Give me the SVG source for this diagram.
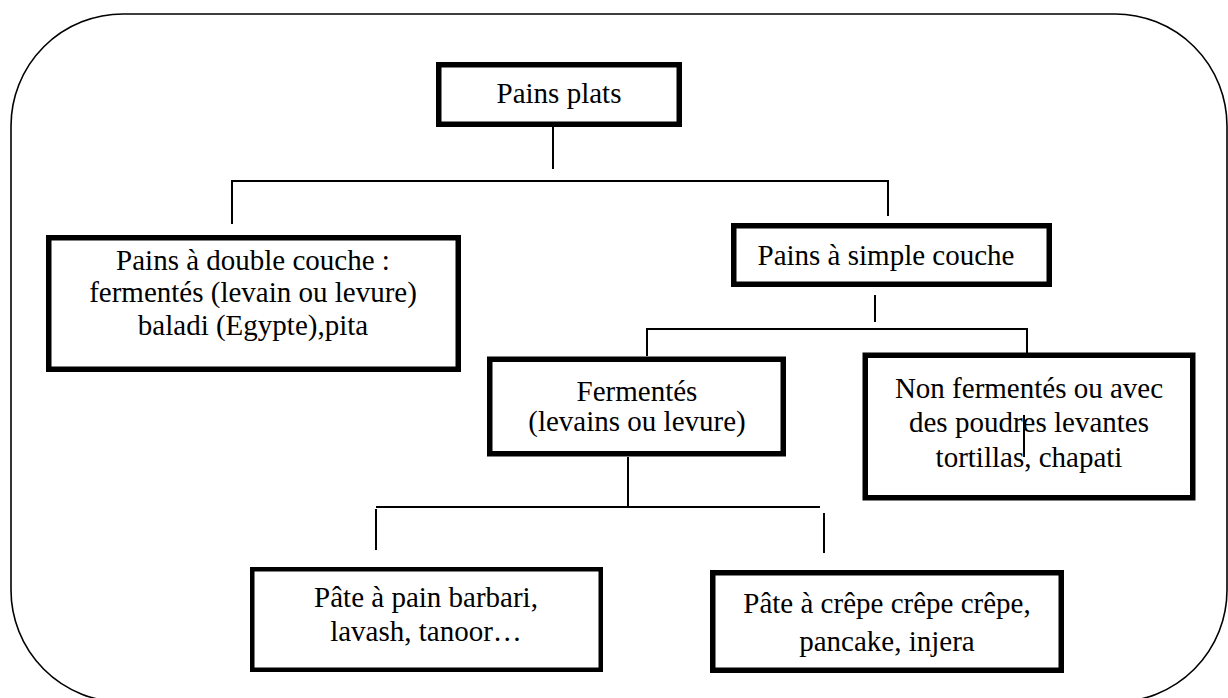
<svg xmlns="http://www.w3.org/2000/svg" width="1228" height="698" viewBox="0 0 1228 698">
<style>
.box{fill:#fff;stroke:#000;stroke-width:5.5}
.thin{stroke-width:4.5}
.t{font-family:"Times New Roman","Liberation Serif",Tinos,serif;font-size:29px;fill:#000;text-anchor:middle}
.c{fill:none;stroke:#000;stroke-width:2}
</style>
<rect x="11" y="14" width="1216" height="688" rx="112" ry="112" fill="#fff" stroke="#000" stroke-width="1.6"/>
<g id="connectors">
<path class="c" d="M553 127V169"/>
<path class="c" d="M232 224V181H888V216"/>
<path class="c" d="M875 295V322"/>
<path class="c" d="M647 356V329H1027V353"/>
<path class="c" d="M628 457V507H820"/>
<path class="c" d="M628 507H376"/>
<path class="c" d="M376 509V550"/>
<path class="c" d="M824 513V553"/>
</g>
<g id="pains-plats">
<rect class="box" x="438.75" y="64.75" width="240.5" height="59.5"/>
<text class="t" x="559" y="103">Pains plats</text>
</g>
<g id="double-couche">
<rect class="box" x="48.75" y="237.75" width="409.5" height="131.5"/>
<text class="t" x="253" y="270">Pains à double couche :</text>
<text class="t" x="253" y="302">fermentés (levain ou levure)</text>
<text class="t" x="253" y="335">baladi (Egypte),pita</text>
</g>
<g id="simple-couche">
<rect class="box" x="733.75" y="225.75" width="315.5" height="58.5"/>
<text class="t" x="886" y="265">Pains à simple couche</text>
</g>
<g id="fermentes">
<rect class="box" x="489.75" y="359.25" width="293.5" height="94.5"/>
<text class="t" x="637" y="401">Fermentés</text>
<text class="t" x="637" y="431">(levains ou levure)</text>
</g>
<g id="non-fermentes">
<rect class="box" x="865.25" y="355.25" width="327.5" height="142.5"/>
<text class="t" x="1029" y="398">Non fermentés ou avec</text>
<text class="t" x="1029" y="432">des poudres levantes</text>
<text class="t" x="1029" y="467">tortillas, chapati</text>
</g>
<g id="pate-pain">
<rect class="box thin" x="252.25" y="569.25" width="348.5" height="100.5"/>
<text class="t" x="426" y="607">Pâte à pain barbari,</text>
<text class="t" x="426" y="641">lavash, tanoor…</text>
</g>
<g id="pate-crepe">
<rect class="box" x="712.75" y="572.75" width="348.5" height="97.5"/>
<text class="t" x="887" y="613">Pâte à crêpe crêpe crêpe,</text>
<text class="t" x="887" y="651">pancake, injera</text>
</g>
<line class="c" x1="1024" y1="415" x2="1024" y2="457"/>
</svg>
